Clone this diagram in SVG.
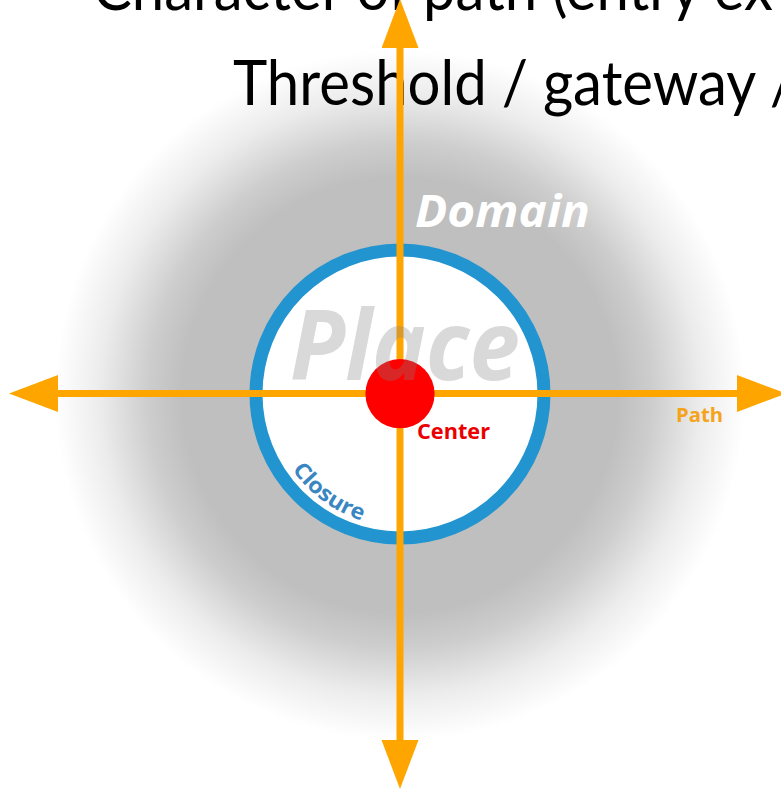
<svg xmlns="http://www.w3.org/2000/svg" width="781" height="789" viewBox="0 0 781 789">
<defs>
<radialGradient id="halo" cx="400" cy="395" r="345" gradientUnits="userSpaceOnUse">
<stop offset="0" stop-color="#bfbfbf"/>
<stop offset="0.63" stop-color="#bfbfbf"/>
<stop offset="0.73" stop-color="#cdcdcd"/>
<stop offset="0.87" stop-color="#ececec"/>
<stop offset="1" stop-color="#ffffff"/>
</radialGradient>
<marker id="head" markerUnits="userSpaceOnUse" markerWidth="50" markerHeight="38" refX="0" refY="18.5" orient="auto-start-reverse" viewBox="0 0 50 38">
<path d="M0,0 L49,18.5 L0,37 Z" fill="#ffa500"/>
</marker>
<path id="closureArc" d="M 292.2 469.4 A 133 133 0 0 0 440 521"/>
</defs>
<style>
.title{font-family:"Lato","Open Sans","Liberation Sans",sans-serif;font-size:62px;fill:#000}
.axis{stroke:#ffa500;stroke-width:7;fill:none;marker-start:url(#head);marker-end:url(#head)}
.lbl{font-family:"Open Sans","Noto Sans","Liberation Sans",sans-serif;font-weight:bold}
</style>
<rect width="781" height="789" fill="#ffffff"/>
<circle cx="400" cy="395" r="345" fill="url(#halo)"/>
<g id="title">
<text class="title" x="93" y="10" textLength="680" lengthAdjust="spacingAndGlyphs">Character of path (entry ex</text>
<text class="title" x="233" y="105" textLength="563" lengthAdjust="spacingAndGlyphs">Threshold / gateway /</text>
</g>
<g id="domain">
<text class="lbl" x="415" y="227" font-size="44" font-style="italic" fill="#ffffff" textLength="175" lengthAdjust="spacingAndGlyphs">Domain</text>
</g>
<g id="closure">
<circle cx="400" cy="394" r="144" fill="#ffffff" stroke="#2294cf" stroke-width="13"/>
<text class="lbl" font-size="22" fill="#3a86c2"><textPath href="#closureArc" textLength="88" lengthAdjust="spacingAndGlyphs">Closure</textPath></text>
</g>
<g id="connectors">
<line class="axis" x1="400" y1="740" x2="400" y2="48"/>
<line class="axis" x1="58" y1="393.5" x2="737" y2="393.5"/>
</g>
<g id="path-label">
<text class="lbl" x="676" y="422" font-size="20" fill="#f5a31a" textLength="47" lengthAdjust="spacingAndGlyphs">Path</text>
</g>
<g id="center">
<circle cx="400" cy="393.7" r="34.6" fill="#ff0000"/>
<text class="lbl" x="417" y="439" font-size="22" fill="#ea0000" textLength="73" lengthAdjust="spacingAndGlyphs">Center</text>
</g>
<g id="place">
<text class="lbl" x="290" y="380" font-size="96" font-style="italic" fill="#808080" fill-opacity="0.3" textLength="230" lengthAdjust="spacingAndGlyphs">Place</text>
</g>
</svg>
